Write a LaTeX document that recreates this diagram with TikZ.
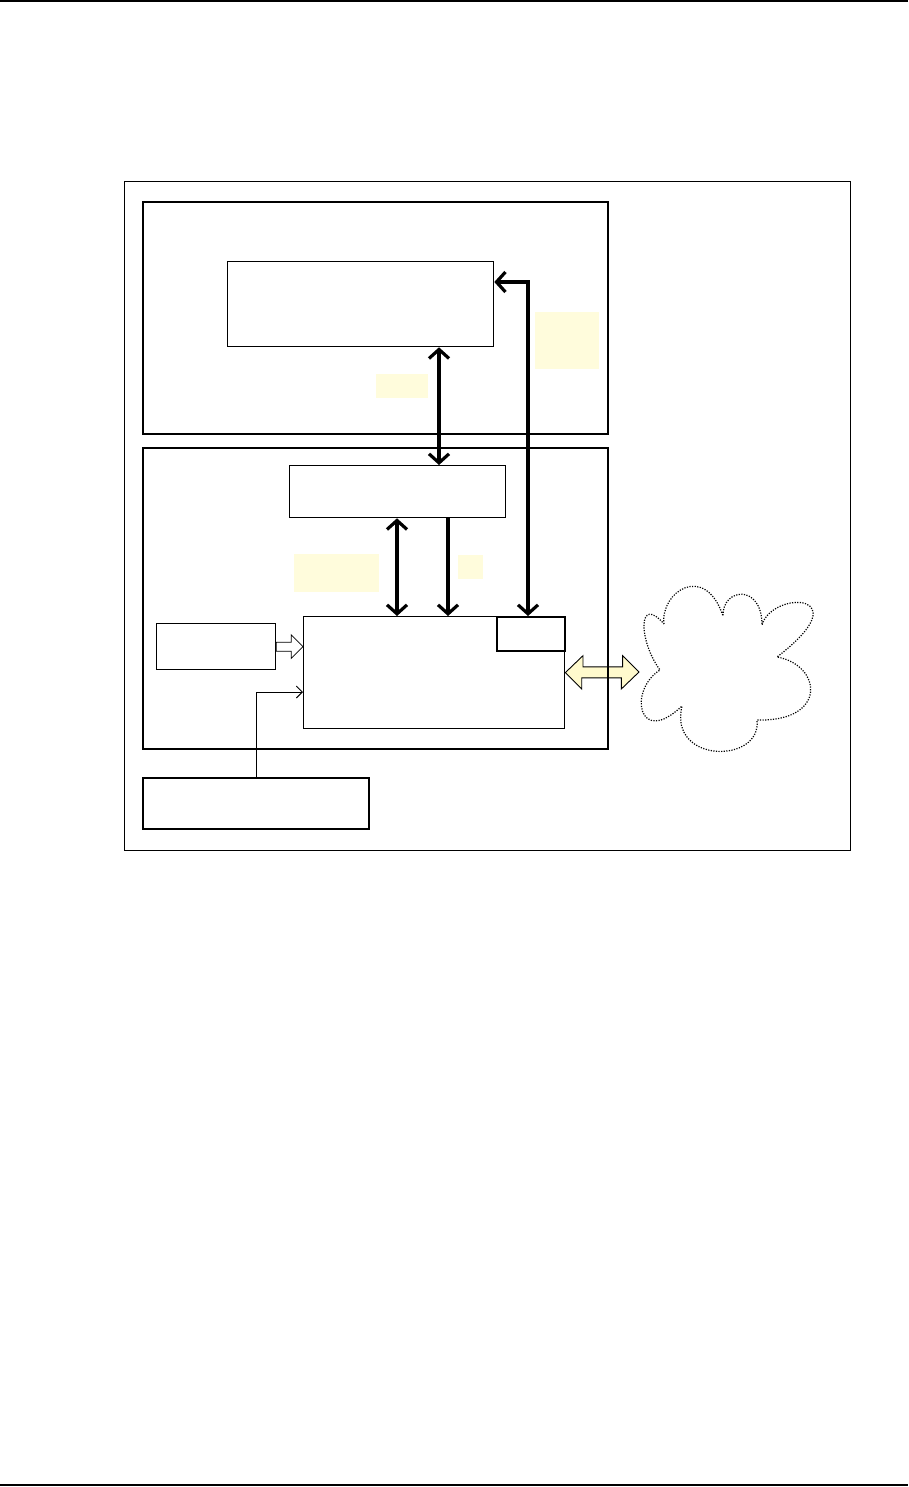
\documentclass[tikz,border=0pt]{standalone}
\usetikzlibrary{arrows.meta,backgrounds}
\definecolor{labelyellow}{RGB}{255,252,220}
\definecolor{arrowyellow}{RGB}{255,250,205}
\begin{document}
\begin{tikzpicture}[x=1pt,y=-1pt,
  blk/.style={draw=black, line width=1.3pt, inner sep=0pt, anchor=north west},
  panel/.style={draw=black, line width=1.8pt, inner sep=0pt, anchor=north west},
  tag/.style={fill=labelyellow, inner sep=0pt, anchor=north west},
  bold/.style={line width=3.2pt, >={Straight Barb[length=9pt,width=20pt]}},
  thin/.style={line width=0.9pt, >={Straight Barb[length=6pt,width=12pt]}},
  cloudline/.style={line width=1.2pt, dash pattern=on 1.2pt off 1.4pt}
]
\useasboundingbox (0,0) rectangle (908,1487);
% page rules
\draw[line width=2pt] (0,1) -- (908,1);
\draw[line width=2pt] (0,1485) -- (908,1485);

% frames
\node[panel, line width=1.4pt, minimum width=726pt, minimum height=669pt] (outer) at (124,181) {};
\node[panel, minimum width=465pt, minimum height=232pt] (top) at (142,201) {};
\node[panel, minimum width=465pt, minimum height=301pt] (mid) at (142,447) {};

% boxes
\node[blk, minimum width=266pt, minimum height=85pt] (A) at (227,261) {};
\node[blk, minimum width=216pt, minimum height=52pt] (B) at (289,465) {};
\node[blk, minimum width=261pt, minimum height=112pt] (C) at (303,616) {};
\node[blk, line width=1.6pt, minimum width=68pt, minimum height=34pt] (D) at (496,616) {};
\node[blk, minimum width=119pt, minimum height=46pt] (E) at (156,623) {};
\node[blk, line width=1.6pt, minimum width=226pt, minimum height=51pt] (F) at (142,777) {};

% yellow labels
\node[tag, minimum width=64pt, minimum height=57pt] (t1) at (535,312) {};
\node[tag, minimum width=52pt, minimum height=24pt] (t2) at (376,374) {};
\node[tag, minimum width=85pt, minimum height=38pt] (t3) at (294,554) {};
\node[tag, minimum width=25pt, minimum height=24pt] (t4) at (458,555) {};

% bold connectors
\coordinate (xa) at (439,0);
\coordinate (xb) at (397,0);
\coordinate (xc) at (448,0);
\coordinate (xd) at (528,0);
\coordinate (yd) at (0,282);
\draw[bold,<->] (A.south -| xa) -- (B.north -| xa);
\draw[bold,<->] (B.south -| xb) -- (C.north -| xb);
\draw[bold,->] (B.south -| xc) -- (C.north -| xc);
\draw[bold,<->] (A.east |- yd) -- (xd |- yd) -- (D.north -| xd);

% thin connector from F to C
\coordinate (fx) at (256,0);
\coordinate (fy) at (0,692);
\draw[thin,->] (F.north -| fx) -- (fx |- fy) -- (C.west |- fy);

% hollow block arrow from E to C
\coordinate (tipE) at (C.west |- E.east);
\draw[line width=0.8pt, fill=white]
  ([yshift=4.5pt]E.east) -- ([xshift=-11.7pt,yshift=4.5pt]tipE)
  -- ([xshift=-11.7pt,yshift=11.7pt]tipE) -- (tipE)
  -- ([xshift=-11.7pt,yshift=-11.7pt]tipE) -- ([xshift=-11.7pt,yshift=-4.5pt]tipE)
  -- ([yshift=-4.5pt]E.east) -- cycle;

% cloud
\coordinate (cloudL) at (639,672);
\draw[cloudline]
  (664,624) .. controls (660,592) and (705,562) .. (723,616)
  .. controls (722,588) and (762,583) .. (762,625)
  .. controls (772,590) and (862,592) .. (777,657)
  .. controls (822,665) and (828,722) .. (757,720)
  .. controls (762,764) and (668,764) .. (682,706)
  .. controls (638,748) and (628,690) .. (660,670)
  .. controls (638,640) and (638,594) .. (664,624);

% yellow double block arrow between C and cloud (behind panel line)
\begin{scope}[on background layer]
\draw[line width=0.9pt, fill=arrowyellow]
  (C.east) -- ++(17.7,-17) -- ++(0,11.2) -- ++(39.6,0) -- ++(0,-11.2)
  -- (cloudL) -- ++(-17.7,17) -- ++(0,-11.2) -- ++(-39.6,0) -- ++(0,11.2) -- cycle;
\end{scope}
\end{tikzpicture}
\end{document}
